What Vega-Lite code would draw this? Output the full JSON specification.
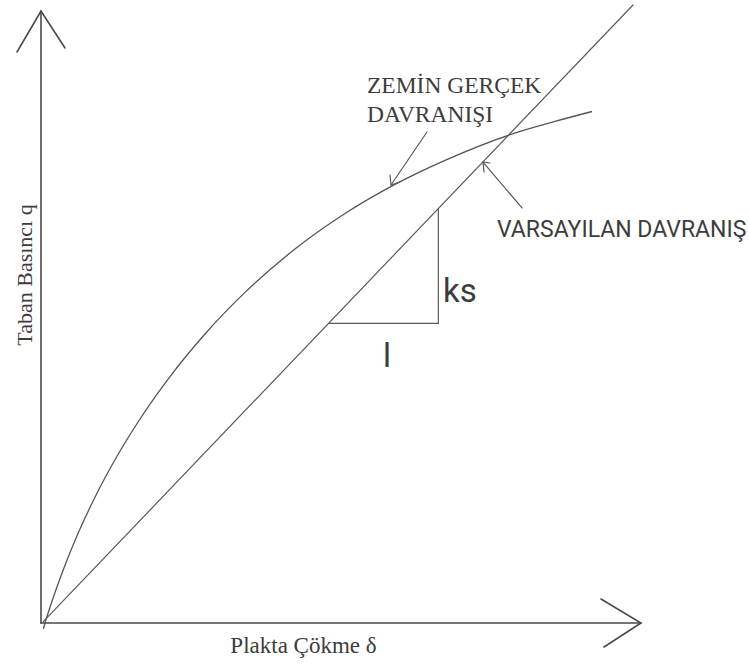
{
  "$schema": "https://vega.github.io/schema/vega-lite/v6.json",
  "autosize": "none",
  "width": 750,
  "height": 666,
  "padding": 0,
  "background": "white",
  "config": {"view": {"stroke": null}},
  "datasets": {
    "segments": [
      {"id": "yaxis", "kind": "axis", "ord": 0, "d": 0, "q": 0},
      {"id": "yaxis", "kind": "axis", "ord": 1, "d": 0, "q": 102},
      {"id": "yarrow", "kind": "axis", "ord": 0, "d": -4.0, "q": 95.17},
      {"id": "yarrow", "kind": "axis", "ord": 1, "d": 0, "q": 102},
      {"id": "yarrow", "kind": "axis", "ord": 2, "d": 4.0, "q": 95.83},
      {"id": "xaxis", "kind": "axis", "ord": 0, "d": 0, "q": 0},
      {"id": "xaxis", "kind": "axis", "ord": 1, "d": 100, "q": 0},
      {"id": "xarrow", "kind": "axis", "ord": 0, "d": 93.33, "q": 4.0},
      {"id": "xarrow", "kind": "axis", "ord": 1, "d": 100, "q": 0},
      {"id": "xarrow", "kind": "axis", "ord": 2, "d": 93.83, "q": -4.0},
      {"id": "linear", "kind": "guide", "ord": 0, "d": 0.38, "q": 0.22},
      {"id": "linear", "kind": "guide", "ord": 1, "d": 98.67, "q": 103},
      {"id": "slope", "kind": "guide", "ord": 0, "d": 48.0, "q": 49.95},
      {"id": "slope", "kind": "guide", "ord": 1, "d": 66.22, "q": 49.95},
      {"id": "slope", "kind": "guide", "ord": 2, "d": 66.22, "q": 69.07},
      {"id": "a1", "kind": "guide", "ord": 0, "d": 64.33, "q": 81.83},
      {"id": "a1", "kind": "guide", "ord": 1, "d": 58.33, "q": 73.0},
      {"id": "a1h", "kind": "guide", "ord": 0, "d": 58.17, "q": 74.67},
      {"id": "a1h", "kind": "guide", "ord": 1, "d": 58.33, "q": 73.0},
      {"id": "a1h", "kind": "guide", "ord": 2, "d": 59.83, "q": 73.5},
      {"id": "a2", "kind": "guide", "ord": 0, "d": 80.17, "q": 69.17},
      {"id": "a2", "kind": "guide", "ord": 1, "d": 73.67, "q": 76.83},
      {"id": "a2h", "kind": "guide", "ord": 0, "d": 74.83, "q": 76.67},
      {"id": "a2h", "kind": "guide", "ord": 1, "d": 73.67, "q": 76.83},
      {"id": "a2h", "kind": "guide", "ord": 2, "d": 73.83, "q": 75.17}
    ],
    "soil": [
      {"d": 0.38, "q": -1.0},
      {"d": 0.67, "q": 0.0},
      {"d": 2.33, "q": 5.08},
      {"d": 4.0, "q": 9.63},
      {"d": 6.33, "q": 15.28},
      {"d": 9.0, "q": 20.97},
      {"d": 12.33, "q": 27.2},
      {"d": 16.5, "q": 34.0},
      {"d": 21.5, "q": 41.07},
      {"d": 27.33, "q": 48.17},
      {"d": 34.0, "q": 55.1},
      {"d": 42.33, "q": 62.33},
      {"d": 50.67, "q": 68.25},
      {"d": 59.0, "q": 73.1},
      {"d": 67.33, "q": 77.1},
      {"d": 78.83, "q": 81.6},
      {"d": 85.67, "q": 83.6},
      {"d": 91.83, "q": 85.25}
    ],
    "labels": [
      {"role": "note", "d": 54.33, "q": 88.25, "text": "ZEMİN GERÇEK"},
      {"role": "note", "d": 54.33, "q": 83.5, "text": "DAVRANIŞI"},
      {"role": "xtitle", "d": 43.75, "q": -5.0, "text": "Plakta Çökme δ"},
      {"role": "ytitle", "d": -1.5, "q": 58.0, "text": "Taban Basıncı q"},
      {"role": "assumed", "d": 76.0, "q": 64.33, "text": "VARSAYILAN DAVRANIŞ"},
      {"role": "ks", "d": 67.0, "q": 53.5, "text": "ks"},
      {"role": "unit", "d": 57.67, "q": 42.67, "text": "l"}
    ]
  },
  "encoding": {
    "x": {"field": "d", "type": "quantitative", "axis": null,
          "scale": {"domain": [-6.8333, 118.1667], "nice": false, "zero": false}},
    "y": {"field": "q", "type": "quantitative", "axis": null,
          "scale": {"domain": [-7.1667, 103.8333], "nice": false, "zero": false}}
  },
  "layer": [
    {
      "data": {"name": "segments"},
      "mark": {"type": "line", "strokeCap": "round", "strokeJoin": "miter"},
      "encoding": {
        "detail": {"field": "id"},
        "order": {"field": "ord", "type": "quantitative"},
        "stroke": {"field": "kind", "type": "nominal", "legend": null,
                   "scale": {"domain": ["axis", "guide"], "range": ["#4a4a4a", "#5a5a5a"]}},
        "strokeWidth": {"field": "kind", "type": "nominal", "legend": null,
                        "scale": {"domain": ["axis", "guide"], "range": [1.6, 1.2]}}
      }
    },
    {
      "data": {"name": "soil"},
      "mark": {"type": "line", "interpolate": "monotone", "stroke": "#555555", "strokeWidth": 1.3},
      "encoding": {"order": {"field": "d", "type": "quantitative"}}
    },
    {
      "data": {"name": "labels"},
      "transform": [{"filter": "datum.role === 'note'"}],
      "mark": {"type": "text", "font": "Liberation Serif", "fontSize": 23.5, "align": "left", "baseline": "alphabetic", "color": "#3c3c3c"},
      "encoding": {"text": {"field": "text"}}
    },
    {
      "data": {"name": "labels"},
      "transform": [{"filter": "datum.role === 'xtitle'"}],
      "mark": {"type": "text", "font": "Liberation Serif", "fontSize": 23, "align": "center", "baseline": "alphabetic", "color": "#3c3c3c"},
      "encoding": {"text": {"field": "text"}}
    },
    {
      "data": {"name": "labels"},
      "transform": [{"filter": "datum.role === 'ytitle'"}],
      "mark": {"type": "text", "font": "Liberation Serif", "fontSize": 22, "angle": 270, "align": "center", "baseline": "alphabetic", "color": "#3c3c3c"},
      "encoding": {"text": {"field": "text"}}
    },
    {
      "data": {"name": "labels"},
      "transform": [{"filter": "datum.role === 'assumed'"}],
      "mark": {"type": "text", "font": "Roboto", "fontSize": 23, "align": "left", "baseline": "alphabetic", "color": "#3c3c3c"},
      "encoding": {"text": {"field": "text"}}
    },
    {
      "data": {"name": "labels"},
      "transform": [{"filter": "datum.role === 'ks'"}],
      "mark": {"type": "text", "font": "Roboto", "fontSize": 33, "align": "left", "baseline": "alphabetic", "color": "#3c3c3c"},
      "encoding": {"text": {"field": "text"}}
    },
    {
      "data": {"name": "labels"},
      "transform": [{"filter": "datum.role === 'unit'"}],
      "mark": {"type": "text", "font": "Roboto", "fontSize": 33, "align": "center", "baseline": "alphabetic", "color": "#3c3c3c"},
      "encoding": {"text": {"field": "text"}}
    }
  ]
}
